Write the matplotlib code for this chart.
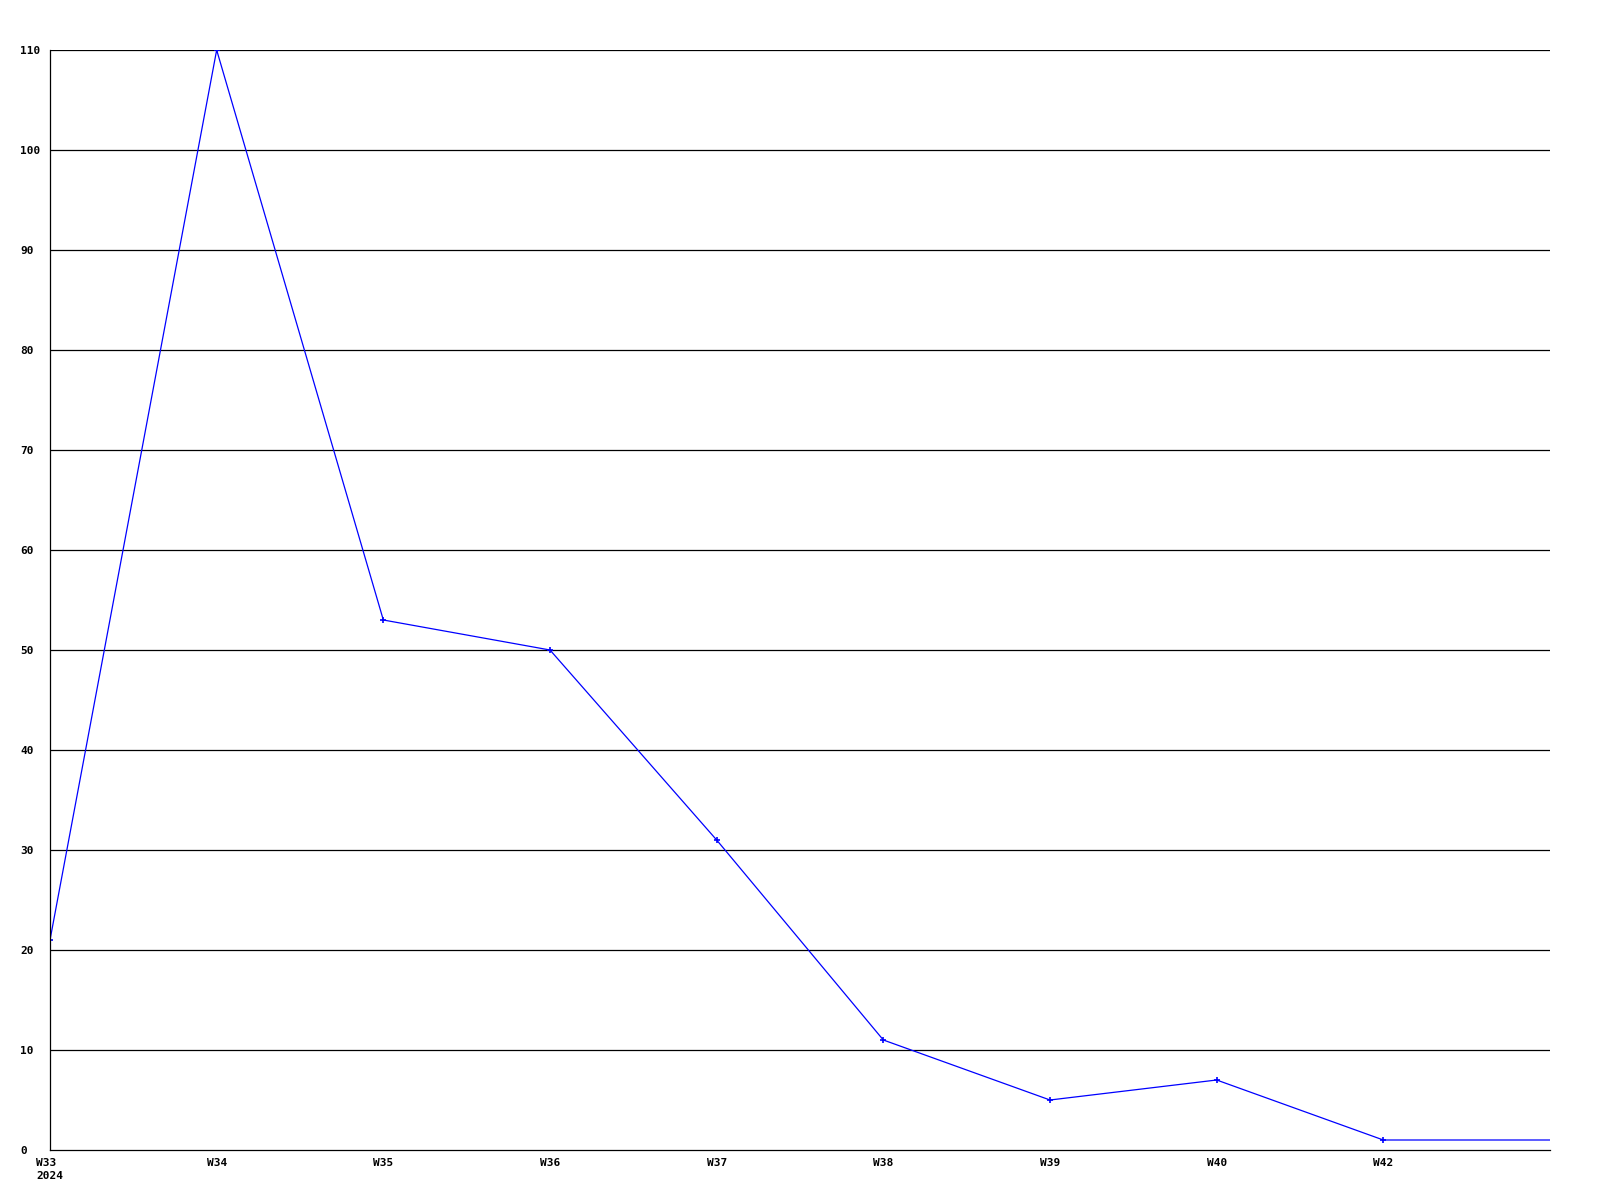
import numpy as np
import matplotlib
matplotlib.use("Agg")
import matplotlib.pyplot as plt

# weekly counts
weeks = ["W33\n2024", "W34", "W35", "W36", "W37", "W38", "W39", "W40", "W42"]
counts = [21, 110, 53, 50, 31, 11, 5, 7, 1]
# line is carried on to the right edge at the last value
tail_value = 1
y_ticks = [0, 10, 20, 30, 40, 50, 60, 70, 80, 90, 100, 110]

fig = plt.figure(figsize=(16, 12), dpi=100)
ax = fig.add_axes([50 / 1600, 50 / 1200, 1500 / 1600, 1100 / 1200])

x = np.arange(len(counts))
ax.plot(np.append(x, len(counts)), counts + [tail_value], color="#0000ff", lw=0.9)
ax.plot(x, counts, linestyle="none", marker="+", ms=4, mew=1.2, color="#0000ff")

ax.set_xlim(0, len(counts))
ax.set_ylim(0, 110)
ax.set_yticks(y_ticks)
ax.set_yticklabels([str(v) for v in y_ticks])
ax.set_xticks(x)
ax.set_xticklabels(weeks, linespacing=1.3)
for lbl in ax.get_xticklabels() + ax.get_yticklabels():
    lbl.set_family("DejaVu Sans Mono")
    lbl.set_weight("bold")
    lbl.set_fontsize(8)
for lbl in ax.get_xticklabels():
    lbl.set_verticalalignment("top")
    lbl.set_multialignment("left")
for lbl in ax.get_yticklabels():
    lbl.set_horizontalalignment("left")

ax.tick_params(axis="both", length=0)
ax.tick_params(axis="x", pad=6)
ax.tick_params(axis="y", pad=21.5)

for v in y_ticks[1:]:
    ax.axhline(v, color="black", lw=0.9, zorder=0)
ax.spines["top"].set_visible(False)
ax.spines["right"].set_visible(False)
ax.spines["left"].set_linewidth(0.9)
ax.spines["bottom"].set_linewidth(0.9)

fig.savefig("out.png", dpi=100, facecolor="white")
